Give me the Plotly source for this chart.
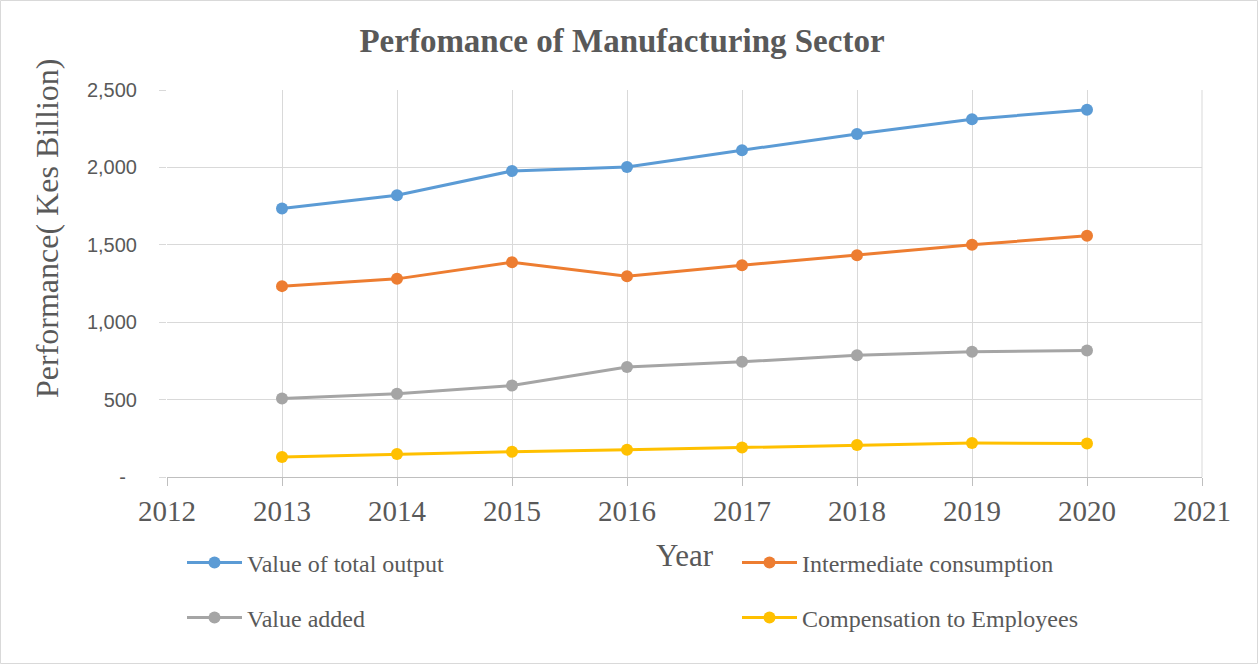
import plotly.graph_objects as go

# Manufacturing sector performance, KES billion
years = [2013, 2014, 2015, 2016, 2017, 2018, 2019, 2020]
total_output = [1734, 1820, 1977, 2003, 2111, 2216, 2311, 2373]
intermediate = [1233, 1280, 1388, 1297, 1368, 1433, 1500, 1558]
value_added = [507, 538, 591, 710, 744, 787, 809, 817]
compensation = [129, 148, 163, 176, 191, 206, 219, 217]

y_ticks = [0, 500, 1000, 1500, 2000, 2500]
y_tick_text = ["-\u00a0\u00a0", "500", "1,000", "1,500", "2,000", "2,500"]
x_ticks = list(range(2012, 2022))

# name, values, colour, legend id, legend position (px from top-left)
series = [
    ("Value of total output", total_output, "#5B9BD5", "legend", (182, 563)),
    ("Intermediate consumption", intermediate, "#ED7D31", "legend2", (737, 563)),
    ("Value added", value_added, "#A5A5A5", "legend3", (182, 618)),
    ("Compensation to Employees", compensation, "#FFC000", "legend4", (737, 618)),
]

W, H = 1259, 665
ML, MR, MT, MB = 167, 57, 90, 188
PW, PH = W - ML - MR, H - MT - MB
TXT = "#595959"
SERIF = "Liberation Serif, Times New Roman, serif"
SANS = "Liberation Sans, Arial, sans-serif"

fig = go.Figure()
legends = {}
for name, vals, color, lg, (lx, ly) in series:
    fig.add_trace(go.Scatter(
        x=years, y=vals, name=name, mode="lines+markers",
        line=dict(color=color, width=3),
        marker=dict(color=color, size=12),
        legend=lg, showlegend=True,
    ))
    legends[lg] = dict(
        orientation="h", xref="container", yref="container",
        x=lx / W, y=1 - ly / H, xanchor="left", yanchor="middle",
        font=dict(family=SERIF, size=24, color=TXT),
        itemwidth=55, bgcolor="rgba(0,0,0,0)",
    )

fig.update_layout(
    width=W, height=H,
    showlegend=True,
    margin=dict(l=ML, r=MR, t=MT, b=MB, autoexpand=False),
    paper_bgcolor="white", plot_bgcolor="white",
    title=dict(
        text="<b>Perfomance of Manufacturing Sector</b>",
        x=622 / W, xref="container", xanchor="center",
        y=1 - 40 / H, yref="container", yanchor="middle",
        font=dict(family=SERIF, size=33, color=TXT),
    ),
    xaxis=dict(
        range=[2012, 2021], tickvals=x_ticks,
        showgrid=True, gridcolor="#D9D9D9", gridwidth=1,
        showline=True, linecolor="#BFBFBF", linewidth=1,
        ticks="outside", ticklen=8, tickcolor="#BFBFBF",
        tickfont=dict(family=SERIF, size=29, color=TXT),
        zeroline=False,
    ),
    yaxis=dict(
        range=[0, 2500], tickvals=y_ticks, ticktext=y_tick_text,
        showgrid=True, gridcolor="#D9D9D9", gridwidth=1,
        showline=False,
        ticks="outside", ticklen=7, tickcolor="#D9D9D9",
        ticklabelstandoff=18,
        tickfont=dict(family=SANS, size=20, color=TXT),
        zeroline=False,
    ),
    annotations=[
        dict(text="Performance( Kes Billion)", xref="paper", yref="paper",
             x=(47 - ML) / PW, y=(H - MB - 229) / PH,
             xanchor="center", yanchor="middle", textangle=-90, showarrow=False,
             font=dict(family=SERIF, size=32, color=TXT)),
        dict(text="Year", xref="paper", yref="paper",
             x=(685 - ML) / PW, y=(H - MB - 555) / PH,
             xanchor="center", yanchor="middle", showarrow=False,
             font=dict(family=SERIF, size=31, color=TXT)),
    ],
    shapes=[
        # outer chart border
        dict(type="rect", xref="paper", yref="paper",
             x0=(0.5 - ML) / PW, x1=(W - 1.5 - ML) / PW,
             y0=(H - MB - (H - 1.5)) / PH, y1=(H - MB - 0.5) / PH,
             line=dict(color="#D9D9D9", width=1), layer="below"),
        # right edge of the plot area
        dict(type="line", xref="paper", yref="paper", x0=1, x1=1, y0=0, y1=1,
             line=dict(color="#D9D9D9", width=1), layer="below"),
    ],
    **legends,
)

fig.write_html("out.html")
